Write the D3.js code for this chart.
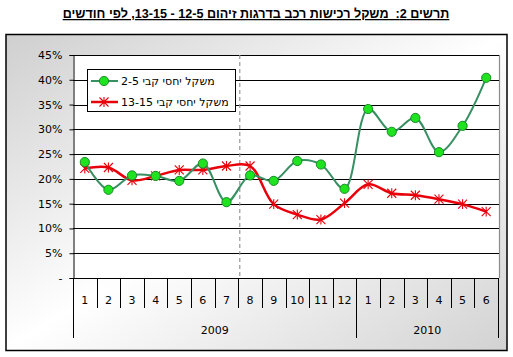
<!DOCTYPE html>
<html><head><meta charset="utf-8">
<script src="https://cdn.jsdelivr.net/npm/d3@7"></script>
<style>body{margin:0;background:#fff}svg{display:block}</style>
</head><body>
<svg id="c" width="513" height="357"></svg>
<script>
const months = ["1","2","3","4","5","6","7","8","9","10","11","12","1","2","3","4","5","6"];
const years = [{label:"2009", n:12},{label:"2010", n:6}];
const green = [23.4,17.8,20.7,20.6,19.6,23.1,15.3,20.7,19.6,23.6,22.9,18.0,34.1,29.5,32.3,25.4,30.7,40.4];
const red = [22.1,22.3,19.7,20.6,21.8,21.8,22.6,22.6,14.9,12.8,11.8,15.1,18.9,17.1,16.7,15.9,14.9,13.4];
const yTicks = [0,5,10,15,20,25,30,35,40,45];
const seriesNames = ["משקל יחסי קבי 2-5","משקל יחסי קבי 13-15"];
const title = "תרשים 2:  משקל רכישות רכב בדרגות זיהום 12-5 - 13-15, לפי חודשים";

const svg = d3.select("#c");
const font = "DejaVu Sans, Verdana, sans-serif";
const L=73, R=498, T=55, B=278;

const defs = svg.append("defs");
const g = defs.append("linearGradient").attr("id","bg").attr("x1","0").attr("y1","0").attr("x2","1").attr("y2","1");
g.append("stop").attr("offset","0").attr("stop-color","#cfcfcf");
g.append("stop").attr("offset","0.5").attr("stop-color","#ffffff");
g.append("stop").attr("offset","1").attr("stop-color","#d2d2d2");

svg.append("rect").attr("x",6).attr("y",34.5).attr("width",501).attr("height",316)
  .attr("fill","url(#bg)").attr("stroke","#000").attr("stroke-width",1.5);

// title
svg.append("text").attr("x",256).attr("y",18).attr("text-anchor","middle")
  .style("direction","rtl").style("white-space","pre").attr("font-family","Liberation Sans, Arial, sans-serif")
  .attr("font-weight","bold").attr("font-size",12.6).attr("text-decoration","underline")
  .text(title);

const x = d3.scaleBand().domain(d3.range(months.length)).range([L,R]).padding(0);
const y = d3.scaleLinear().domain([0,45]).range([B,T]);

svg.append("rect").attr("x",L).attr("y",T).attr("width",R-L+1.5).attr("height",B-T).attr("fill","#fff");
svg.append("path").attr("d",`M${L},${T+0.5}H${R+1.5}V${B}`).attr("fill","none").attr("stroke","#8c8c8c").attr("stroke-width",1.2);

// gridlines
svg.append("g").selectAll("line").data(yTicks.filter(d=>d>0)).join("line")
  .attr("x1",L).attr("x2",R+1).attr("y1",d=>Math.round(y(d))+0.5).attr("y2",d=>Math.round(y(d))+0.5)
  .attr("stroke","#000").attr("stroke-width",1);

// y axis
const ya = svg.append("g").attr("transform",`translate(${L+0.5},0)`)
  .call(d3.axisLeft(y).tickValues(yTicks).tickSize(4).tickPadding(7)
    .tickFormat(d=>d===0?"-":d+"%"));
ya.select(".domain").attr("stroke","#000");
ya.selectAll("text").attr("font-family",font).attr("font-size",11).attr("fill","#000");
ya.selectAll(".tick line").attr("stroke","#000");

// dashed separator between month 7 and 8
svg.append("line").attr("x1",x(7)+1.5).attr("x2",x(7)+1.5).attr("y1",T).attr("y2",B)
  .attr("stroke","#999").attr("stroke-dasharray","4,3").attr("stroke-width",1.2);

// x axis
svg.append("line").attr("x1",L).attr("x2",R).attr("y1",B+0.5).attr("y2",B+0.5).attr("stroke","#000");
const bounds = d3.range(months.length+1);
let yb = [0]; let acc=0; years.forEach(yr=>{acc+=yr.n; yb.push(acc);});
svg.append("g").selectAll("line").data(bounds).join("line")
  .attr("x1",i=>Math.round(L+i*x.bandwidth())+0.5).attr("x2",i=>Math.round(L+i*x.bandwidth())+0.5)
  .attr("y1",B).attr("y2",i=>yb.includes(i)?338:308).attr("stroke","#000");
svg.append("g").selectAll("text").data(months).join("text")
  .attr("x",(d,i)=>x(i)+x.bandwidth()/2).attr("y",304).attr("text-anchor","middle")
  .attr("font-family",font).attr("font-size",11).text(d=>d);
svg.append("g").selectAll("text").data(years).join("text")
  .attr("x",(d,i)=>L+(yb[i]+d.n/2)*x.bandwidth()).attr("y",334).attr("text-anchor","middle")
  .attr("font-family",font).attr("font-size",11).text(d=>d.label);

// lines
const cx = i=>x(i)+x.bandwidth()/2;
const line = d3.line().x((d,i)=>cx(i)).y(d=>y(d)).curve(d3.curveCatmullRom.alpha(0.5));
svg.append("path").datum(red).attr("d",line).attr("fill","none").attr("stroke","#e8000b").attr("stroke-width",2.5);
svg.append("path").datum(green).attr("d",line).attr("fill","none").attr("stroke","#378f62").attr("stroke-width",2);

function star(sel, s){
  sel.append("path").attr("d",`M${-s},${-s}L${s},${s}M${-s},${s}L${s},${-s}M0,${-s*1.1}V${s*1.1}`)
    .attr("stroke","#e8000b").attr("stroke-width",1.1).attr("fill","none");
}
svg.append("g").selectAll("g").data(red).join("g")
  .attr("transform",(d,i)=>`translate(${cx(i)},${y(d)})`).each(function(){star(d3.select(this),4.5);});
svg.append("g").selectAll("circle").data(green).join("circle")
  .attr("cx",(d,i)=>cx(i)).attr("cy",d=>y(d)).attr("r",4.6)
  .attr("fill","#1ee31e").attr("stroke","#1a8a2a").attr("stroke-width",1);

// legend
svg.append("rect").attr("x",87.5).attr("y",69.5).attr("width",148).attr("height",42)
  .attr("fill","#fff").attr("stroke","#000");
const lg = [{y:81,c:"#378f62",w:2,m:"c"},{y:102,c:"#e8000b",w:2.5,m:"s"}];
lg.forEach((e,i)=>{
  svg.append("line").attr("x1",91).attr("x2",118).attr("y1",e.y).attr("y2",e.y).attr("stroke",e.c).attr("stroke-width",e.w);
  if(e.m==="c") svg.append("circle").attr("cx",104).attr("cy",e.y).attr("r",4.6).attr("fill","#1ee31e").attr("stroke","#1a8a2a");
  else { const gg=svg.append("g").attr("transform",`translate(104,${e.y})`); star(gg,4.5); }
  svg.append("text").attr("x",121).attr("y",e.y+4).attr("text-anchor","end").style("direction","rtl")
    .attr("font-family",font).attr("font-size",11).text(seriesNames[i]);
});
</script>
</body></html>
